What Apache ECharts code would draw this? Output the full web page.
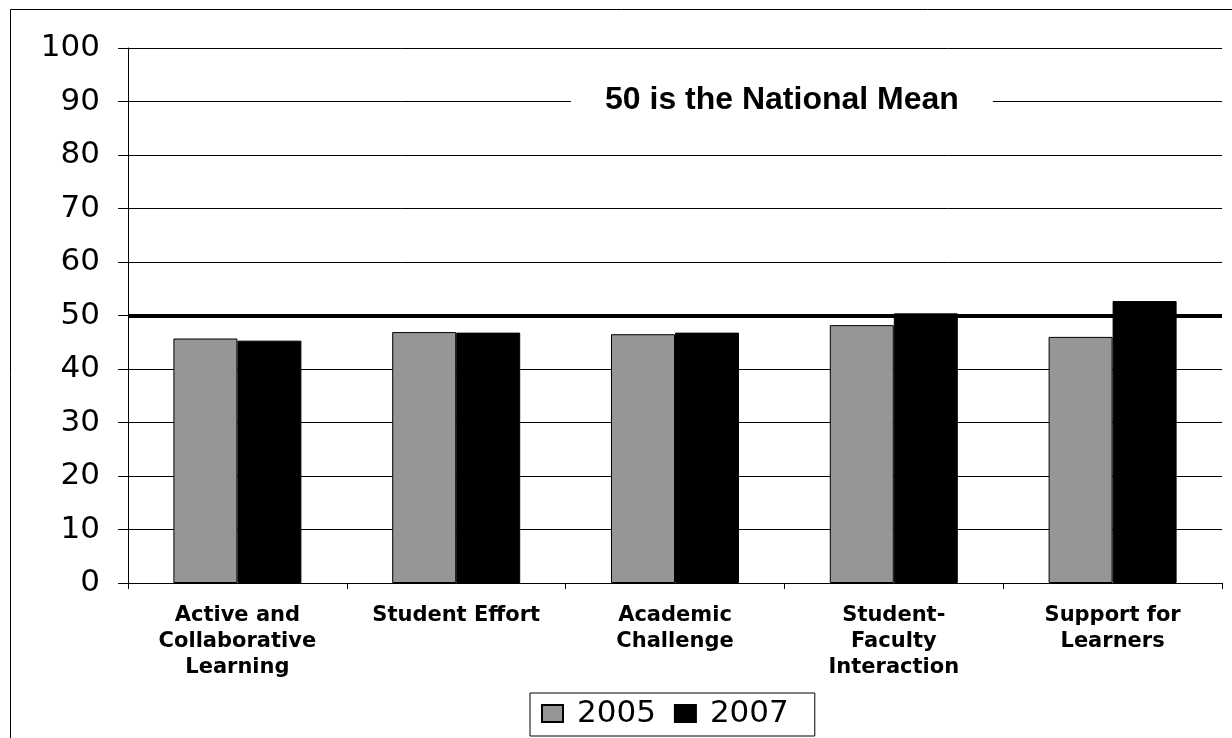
<!DOCTYPE html>
<html>
<head>
<meta charset="utf-8">
<script src="https://cdn.jsdelivr.net/npm/echarts@6/dist/echarts.min.js"></script>
<style>
html,body{margin:0;padding:0;background:#fff;}
#chart{width:1232px;height:738px;}
</style>
</head>
<body>
<div id="chart"></div>
<script>
var categories = ['Active and\nCollaborative\nLearning', 'Student Effort', 'Academic\nChallenge', 'Student-\nFaculty\nInteraction', 'Support for\nLearners'];
var seriesNames = ['2005', '2007'];
var values2005 = [45.7, 46.9, 46.5, 48.2, 46.0];
var values2007 = [45.3, 46.8, 46.8, 50.4, 52.7];
var nationalMean = 50;
var yMin = 0, yMax = 100, yStep = 10;
var titleText = '50 is the National Mean';

var chart = echarts.init(document.getElementById('chart'), null, {renderer: 'canvas'});
var option = {
  backgroundColor: '#fff',
  animation: false,
  title: {
    text: titleText,
    left: 571,
    top: 79,
    padding: [0, 34],
    backgroundColor: '#fff',
    textStyle: {fontFamily: 'Liberation Sans', fontWeight: 'bold', fontSize: 32, color: '#000', lineHeight: 42}
  },
  graphic: [{
    type: 'rect', silent: true, z: -1,
    shape: {x: 10.5, y: 9.5, width: 1400, height: 900},
    style: {fill: 'none', stroke: '#000', lineWidth: 1}
  }],
  legend: {
    data: seriesNames,
    left: 530,
    top: 693,
    padding: [5, 26, 7, 11],
    icon: 'rect',
    itemWidth: 21,
    itemHeight: 17,
    itemGap: 18,
    borderColor: '#000',
    borderWidth: 1,
    textStyle: {fontFamily: 'DejaVu Sans', fontSize: 31, color: '#000', padding: [0, 0, 0, 9], width: 85}
  },
  grid: {left: 128, right: 10, top: 48, bottom: 155, containLabel: false},
  xAxis: {
    type: 'category',
    data: categories,
    axisLine: {lineStyle: {color: '#000', width: 1}},
    axisTick: {show: true, length: 6, lineStyle: {color: '#000'}},
    axisLabel: {
      interval: 0, margin: 20,
      fontFamily: 'DejaVu Sans', fontWeight: 'bold', fontSize: 21, lineHeight: 26, color: '#000', align: 'center'
    }
  },
  yAxis: {
    type: 'value', min: yMin, max: yMax, interval: yStep,
    axisLine: {show: true, lineStyle: {color: '#000', width: 1}},
    axisTick: {show: true, length: 10, lineStyle: {color: '#000'}},
    axisLabel: {margin: 28, fontFamily: 'DejaVu Sans', fontSize: 31, color: '#000'},
    splitLine: {show: true, lineStyle: {color: '#000', width: 1}}
  },
  series: [
    {
      name: seriesNames[0], type: 'bar', data: values2005,
      barWidth: 64, barGap: '0%',
      itemStyle: {color: '#969696', borderColor: '#000', borderWidth: 1}
    },
    {
      name: seriesNames[1], type: 'bar', data: values2007,
      barWidth: 64,
      itemStyle: {color: '#000', borderColor: '#000', borderWidth: 1},
      markLine: {
        silent: true, symbol: 'none', animation: false,
        label: {show: false},
        lineStyle: {color: '#000', width: 4, type: 'solid'},
        data: [{yAxis: nationalMean}]
      }
    }
  ]
};
chart.setOption(option);
</script>
</body>
</html>
